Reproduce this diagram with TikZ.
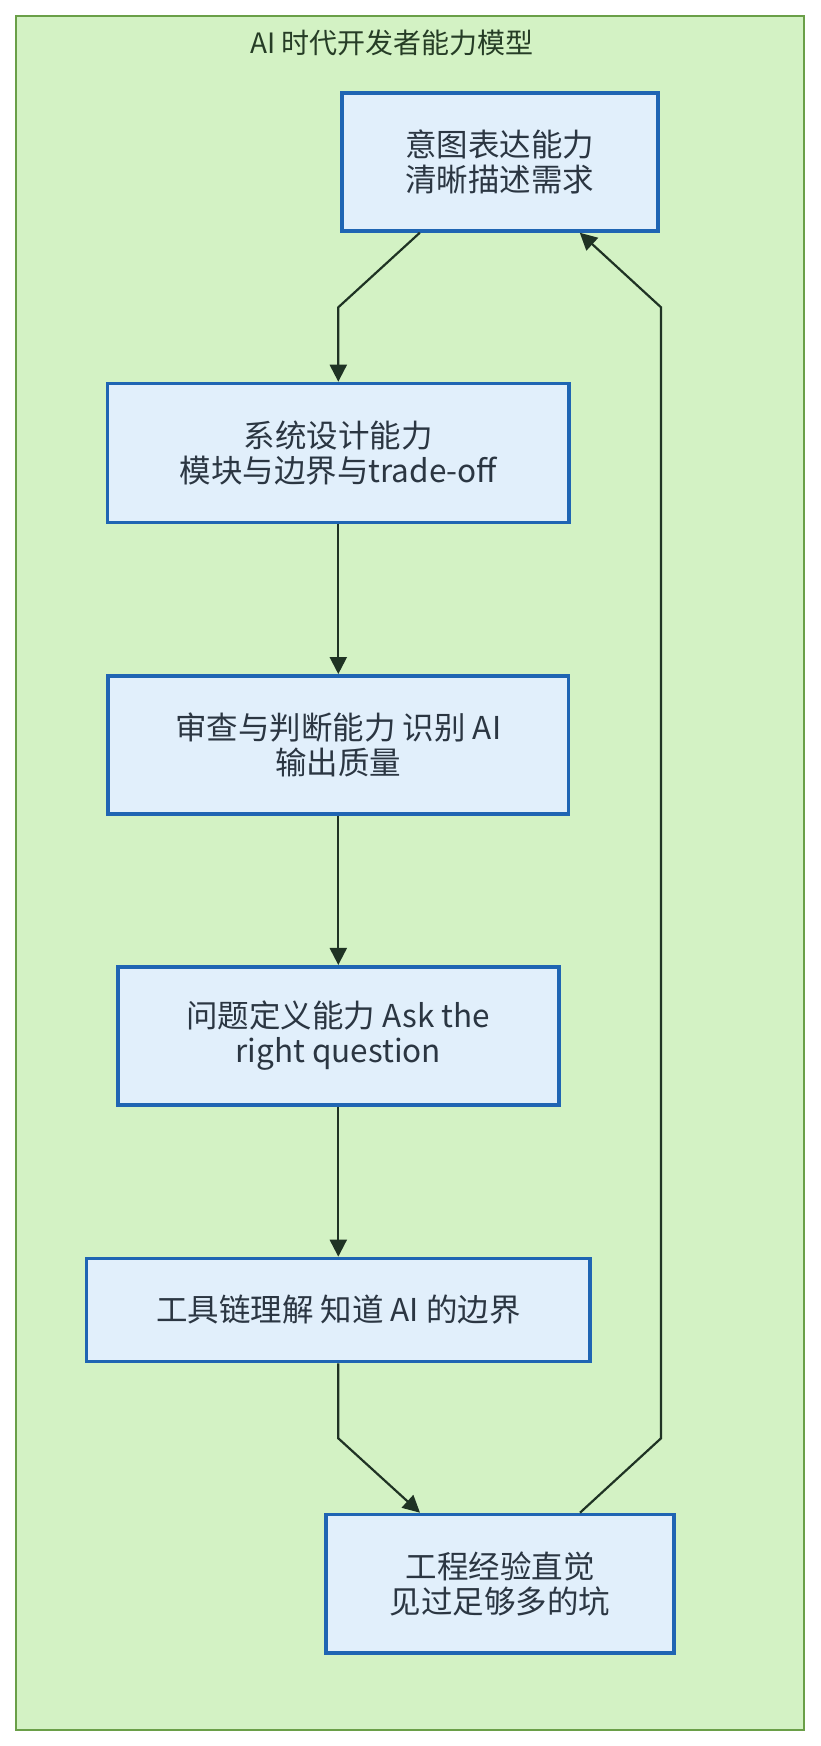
\documentclass[tikz,border=0pt]{standalone}
\usepackage{fontspec}
\setmainfont{Noto Sans CJK SC}
\usetikzlibrary{arrows.meta}
\definecolor{framefill}{HTML}{D3F2C4}
\definecolor{frameline}{HTML}{6A9F48}
\definecolor{boxfill}{HTML}{E1EFFB}
\definecolor{boxline}{HTML}{1F65B3}
\definecolor{edgecol}{HTML}{1F3324}
\definecolor{titlecol}{HTML}{263D26}
\definecolor{textcol}{HTML}{2B3642}
\tikzset{
  capbox/.style={draw=boxline, fill=boxfill, line width=3.6pt, align=center,
    text=textcol, font=\fontsize{31.5}{35}\selectfont, inner sep=0pt},
  flow/.style={draw=edgecol, line width=2.2pt, -{Triangle[length=17pt,width=17pt]}},
}
\begin{document}
\begin{tikzpicture}[x=1pt,y=-1pt]
\useasboundingbox (0,0) rectangle (820,1746);
\draw[fill=framefill, draw=frameline, line width=2.2pt] (16,16) rectangle (804,1730);
\node[text=titlecol, font=\fontsize{28}{32}\selectfont] (title) at (392,42.5) {AI 时代开发者能力模型};

\node[capbox, minimum width=315.9pt, minimum height=138.1pt] (b1) at (499.8,161.9) {意图表达能力\\清晰描述需求};
\node[capbox, minimum width=461.4pt, minimum height=139pt] (b2) at (338.3,453) {系统设计能力\\模块与边界与trade-off};
\node[capbox, minimum width=460.4pt, minimum height=137.9pt] (b3) at (338.3,744.8) {审查与判断能力 识别 AI\\输出质量};
\node[capbox, minimum width=441.1pt, minimum height=138.1pt] (b4) at (338.3,1035.8) {问题定义能力 Ask the\\right question};
\node[capbox, minimum width=503.4pt, minimum height=103.1pt] (b5) at (338.3,1310) {工具链理解 知道 AI 的边界};
\node[capbox, minimum width=347.9pt, minimum height=138.2pt] (b6) at (500,1583.6) {工程经验直觉\\见过足够多的坑};

\coordinate (k1) at (338.3,307.3);
\coordinate (k2) at (338.3,1438.3);
\coordinate (k3) at (661,1438.3);
\coordinate (k4) at (661,307.3);

\draw[flow] ([xshift=-80pt]b1.south) -- (k1) -- (b2.north);
\draw[flow] (b2.south) -- (b3.north);
\draw[flow] (b3.south) -- (b4.north);
\draw[flow] (b4.south) -- (b5.north);
\draw[flow] (b5.south) -- (k2) -- ([xshift=-80pt]b6.north);
\draw[flow] ([xshift=80pt]b6.north) -- (k3) -- (k4) -- ([xshift=80pt]b1.south);
\end{tikzpicture}
\end{document}
